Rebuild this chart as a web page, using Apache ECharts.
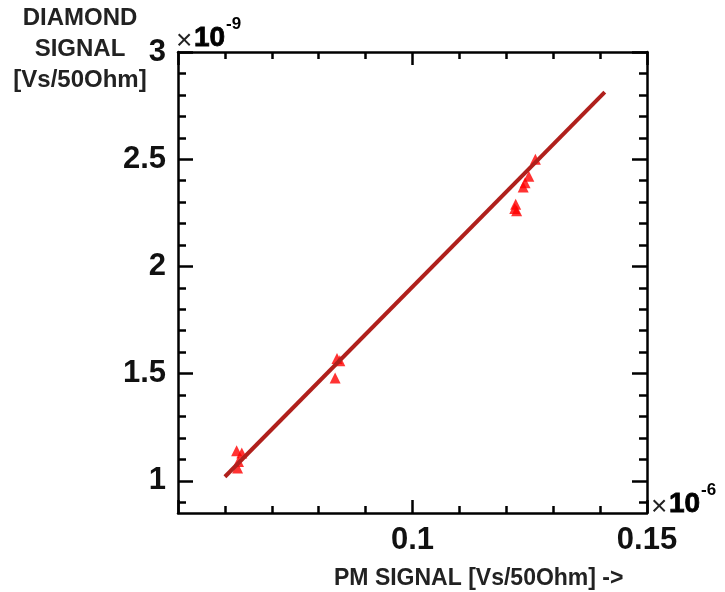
<!DOCTYPE html>
<html>
<head>
<meta charset="utf-8">
<script src="https://cdn.jsdelivr.net/npm/echarts@6/dist/echarts.min.js"></script>
<style>
  html, body { margin: 0; padding: 0; background: #fff; }
  #main { width: 725px; height: 592px; }
</style>
</head>
<body>
<div id="main"></div>
<script>
// measured points (PM signal x1e-6, diamond signal x1e-9)
var pmSignal = [0.0625, 0.0636, 0.0629, 0.0627, 0.0839, 0.0835, 0.0845,
                0.1262, 0.1248, 0.1240, 0.1236, 0.1220, 0.1218, 0.1222];
var diamondSignal = [1.14, 1.13, 1.09, 1.06, 1.57, 1.48, 1.56,
                     2.50, 2.42, 2.39, 2.37, 2.29, 2.27, 2.26];

// linear fit end points
var fitX = [0.06, 0.141];
var fitY = [1.019, 2.813];

// tick positions
var xMajorTicks = [0.05, 0.1, 0.15];
var xMinorTicks = [0.06, 0.07, 0.08, 0.09, 0.11, 0.12, 0.13, 0.14];
var xTickLabels = [0.1, 0.15];
var yMajorTicks = [1, 1.5, 2, 2.5, 3];
var yMinorTicks = [0.9, 1.1, 1.2, 1.3, 1.4, 1.6, 1.7, 1.8, 1.9,
                   2.1, 2.2, 2.3, 2.4, 2.6, 2.7, 2.8, 2.9];
var yTickLabels = [1, 1.5, 2, 2.5, 3];

var FONT = 'Liberation Sans';

function zip(a, b) {
    return a.map(function (v, i) { return [v, b[i]]; });
}

function tickLabel(list, margin) {
    if (!list) return { show: false };
    return {
        show: true, customValues: list, margin: margin, color: '#111',
        fontFamily: FONT, fontWeight: 'bold', fontSize: 31,
        formatter: function (v) { return String(+v.toFixed(3)); }
    };
}

function xAx(pos, ticks, len, labels, line) {
    return {
        type: 'value', position: pos, min: 0.05, max: 0.15,
        splitLine: { show: false },
        axisLine: { show: line, onZero: false, lineStyle: { color: '#000', width: 2.5 } },
        axisTick: { show: true, inside: true, length: len, customValues: ticks,
                    lineStyle: { color: '#000', width: 2.5 } },
        axisLabel: tickLabel(labels, 12)
    };
}

function yAx(pos, ticks, len, labels, line) {
    return {
        type: 'value', position: pos, min: 0.85, max: 3,
        splitLine: { show: false },
        axisLine: { show: line, onZero: false, lineStyle: { color: '#000', width: 2.5 } },
        axisTick: { show: true, inside: true, length: len, customValues: ticks,
                    lineStyle: { color: '#000', width: 2.5 } },
        axisLabel: tickLabel(labels, 12)
    };
}

// "x10^n" exponent marker built from three plain texts
function power(x, y, exp) {
    return [
        { type: 'text', x: x, y: y + 3,
          style: { text: '×', font: '28px "Liberation Sans"', fill: '#222' } },
        { type: 'text', x: x + 18, y: y,
          style: { text: '10', font: 'bold 28px "Liberation Sans"', fill: '#000',
                   stroke: '#000', lineWidth: 0.8 } },
        { type: 'text', x: x + 50, y: y - 8,
          style: { text: exp, font: 'bold 17px "Liberation Sans"', fill: '#000' } }
    ];
}

var chart = echarts.init(document.getElementById('main'));

chart.setOption({
    backgroundColor: '#fff',
    animation: false,
    grid: { left: 178, right: 78, top: 52, bottom: 79 },
    xAxis: [
        xAx('bottom', xMajorTicks, 13, xTickLabels, true),
        xAx('bottom', xMinorTicks, 7, null, false),
        xAx('top', xMajorTicks, 13, null, true),
        xAx('top', xMinorTicks, 7, null, false)
    ],
    yAxis: [
        yAx('left', yMajorTicks, 15, yTickLabels, true),
        yAx('left', yMinorTicks, 8, null, false),
        yAx('right', yMajorTicks, 15, null, true),
        yAx('right', yMinorTicks, 8, null, false)
    ],
    series: [
        {
            type: 'scatter',
            xAxisIndex: 0, yAxisIndex: 0,
            symbol: 'triangle',
            symbolSize: 11,
            itemStyle: { color: '#ff0000' },
            data: zip(pmSignal, diamondSignal)
        },
        {
            type: 'line',
            xAxisIndex: 0, yAxisIndex: 0,
            symbol: 'none',
            lineStyle: { color: '#b0201c', width: 4 },
            data: zip(fitX, fitY)
        }
    ],
    graphic: [
        {
            type: 'text', x: 80, y: 3,
            style: {
                text: 'DIAMOND\nSIGNAL\n[Vs/50Ohm]',
                align: 'center', verticalAlign: 'top',
                font: 'bold 24px "Liberation Sans"', lineHeight: 31, fill: '#222'
            }
        },
        {
            type: 'text', x: 334, y: 567,
            style: {
                text: 'PM SIGNAL [Vs/50Ohm] ->',
                font: 'bold 23px "Liberation Sans"', fill: '#222'
            }
        }
    ].concat(power(176, 24, '-9'), power(651, 490, '-6'))
});
</script>
</body>
</html>
